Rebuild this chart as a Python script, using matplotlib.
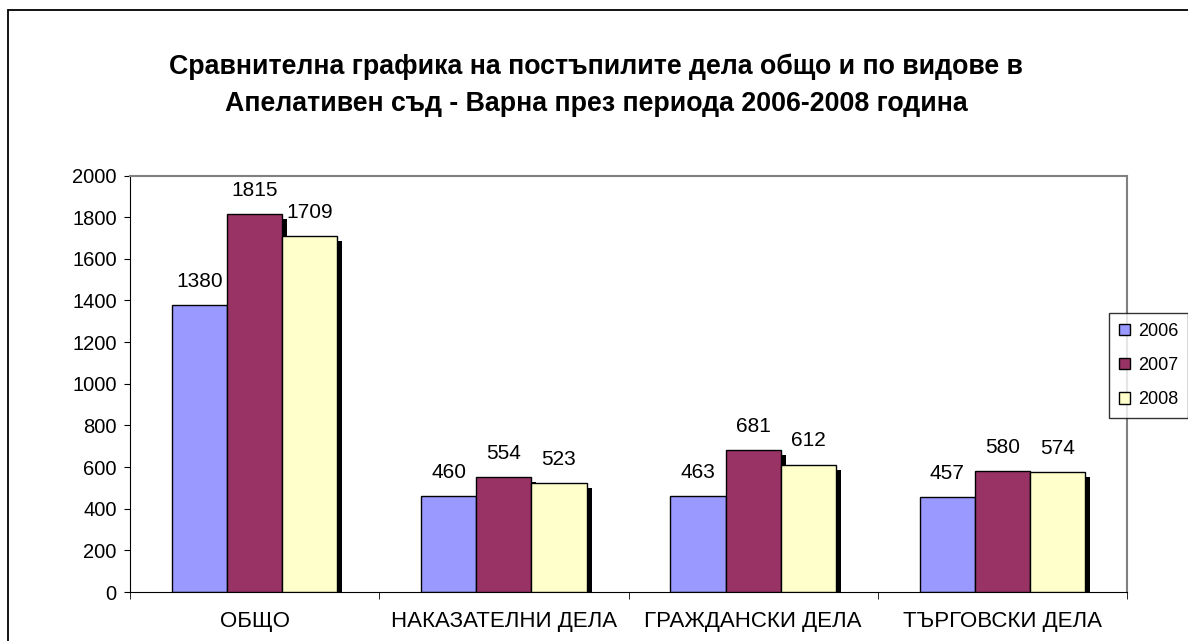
import numpy as np
import matplotlib
matplotlib.use("Agg")
import matplotlib.pyplot as plt
import matplotlib.patheffects as pe
from matplotlib.patches import Rectangle, Patch

plt.rcParams['font.family'] = ['Liberation Sans', 'DejaVu Sans']

categories = ['ОБЩО', 'НАКАЗАТЕЛНИ ДЕЛА', 'ГРАЖДАНСКИ ДЕЛА', 'ТЪРГОВСКИ ДЕЛА']
years = ['2006', '2007', '2008']
v2006 = [1380, 460, 463, 457]
v2007 = [1815, 554, 681, 580]
v2008 = [1709, 523, 612, 574]
colors = ['#9999FF', '#993366', '#FFFFCC']

W, H = 1188, 641
fig = plt.figure(figsize=(W / 100, H / 100), dpi=100)

# outer chart frame (runs off the right and bottom edges)
fig.patches.append(Rectangle((8 / W, -0.05), 1.1, 1 - 10 / H + 0.05,
                             transform=fig.transFigure, fill=False,
                             ec='black', lw=1.3))

ax = fig.add_axes([130 / W, (H - 592) / H, (1127 - 130) / W, (592 - 175.5) / H])

x = np.arange(len(categories))
bw = 0.221
shadow = [pe.SimplePatchShadow(offset=(3.6, -3.6), shadow_rgbFace='black', alpha=1.0), pe.Normal()]

for i, (vals, col) in enumerate(zip([v2006, v2007, v2008], colors)):
    bars = ax.bar(x + (i - 1) * bw, vals, bw, color=col, edgecolor='black',
                  lw=1.0, zorder=2 + i)
    for b in bars:
        b.set_path_effects(shadow)
    for xi, v in zip(x + (i - 1) * bw, vals):
        ax.annotate(str(v), (xi, v), xytext=(0, 13), textcoords='offset points',
                    ha='center', va='baseline', fontsize=15, zorder=10)

ax.set_xlim(-0.5, len(categories) - 0.5)
ax.set_ylim(0, 2000)
ax.set_yticks(range(0, 2001, 200))
ax.set_xticks(x)
ax.set_xticklabels(categories, fontsize=16)
ax.set_xticks(np.arange(-0.5, len(categories), 1), minor=True)
ax.tick_params(axis='x', which='major', length=0, pad=14)
ax.tick_params(axis='x', which='minor', length=5, direction='out')
ax.tick_params(axis='y', labelsize=14.5, length=4.5, direction='out', pad=5)
for s in ['top', 'right']:
    ax.spines[s].set_color('#808080')
    ax.spines[s].set_linewidth(1.5)

fig.text(596 / W, 1 - 67 / H, 'Сравнителна графика на постъпилите дела общо и по видове в',
         ha='center', va='center', fontsize=19.3, fontweight='bold')
fig.text(596 / W, 1 - 104 / H, 'Апелативен съд - Варна през периода 2006-2008 година',
         ha='center', va='center', fontsize=19.3, fontweight='bold')

handles = [Patch(facecolor=c, edgecolor='black', lw=1.0, label=y) for c, y in zip(colors, years)]
leg = fig.legend(handles=handles, loc='upper left', bbox_to_anchor=(1109 / W, 1 - 313 / H),
                 frameon=True, fancybox=False, edgecolor='black', fontsize=13,
                 handlelength=0.6, handleheight=0.6, handletextpad=0.45,
                 labelspacing=0.95, borderpad=0.55, borderaxespad=0)
leg.get_frame().set_linewidth(1.0)
leg.set_zorder(20)

fig.savefig('out.png', dpi=100)
